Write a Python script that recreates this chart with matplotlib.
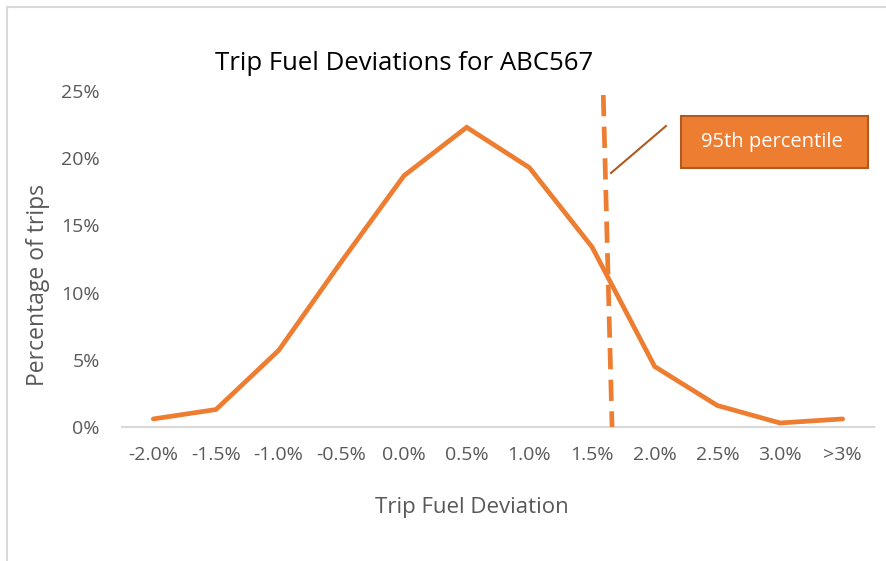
import matplotlib.pyplot as plt
from matplotlib.patches import Rectangle
from matplotlib.lines import Line2D

# ----- Data -----
categories = ["-2.0%", "-1.5%", "-1.0%", "-0.5%", "0.0%", "0.5%",
              "1.0%", "1.5%", "2.0%", "2.5%", "3.0%", ">3%"]
pct_trips = [0.6, 1.3, 5.7, 12.3, 18.7, 22.3, 19.3, 13.4, 4.5, 1.6, 0.3, 0.6]
y_ticks = [0, 5, 10, 15, 20, 25]
# 95th percentile marker (category position, % value) at top and bottom
p95_x = [7.18, 7.32]
p95_y = [24.7, 0.0]

ORANGE = "#ED7D31"
DARK_ORANGE = "#AE5A21"
GREY_TXT = "#595959"
GREY_LINE = "#D9D9D9"

plt.rcParams["font.family"] = ["Open Sans", "DejaVu Sans"]

W, H = 887, 561
fig = plt.figure(figsize=(W / 100, H / 100), dpi=100)
fig.patch.set_facecolor("white")

# chart-area border (light grey, runs off right/bottom)
fig.patches.append(Rectangle((7 / W, -0.05), 1.1, 1 - 7 / H + 0.05,
                             transform=fig.transFigure, fill=False,
                             edgecolor=GREY_LINE, lw=1.5))

ax = fig.add_axes([122 / W, 1 - 427 / H, 752 / W, 336 / H])
x = list(range(len(categories)))
ax.plot(x, pct_trips, color=ORANGE, lw=3.4, solid_joinstyle="miter",
        solid_capstyle="round", zorder=3)
ax.plot(p95_x, p95_y, color=ORANGE, lw=3.4, ls=(0, (4.5, 2.2)), zorder=4)

ax.set_xlim(-0.5, len(categories) - 0.5)
ax.set_ylim(0, 25)
ax.set_xticks(x)
ax.set_xticklabels(categories)
ax.set_yticks(y_ticks)
ax.set_yticklabels([f"{v}%" for v in y_ticks])
ax.tick_params(length=0, labelsize=14, colors=GREY_TXT)
ax.tick_params(axis="y", pad=16)
ax.tick_params(axis="x", pad=14)
for s in ("top", "right", "left"):
    ax.spines[s].set_visible(False)
ax.spines["bottom"].set_color(GREY_LINE)
ax.spines["bottom"].set_linewidth(1.5)

fig.text(472 / W, 1 - 507 / H, "Trip Fuel Deviation", fontsize=16,
         color=GREY_TXT, ha="center", va="center")
fig.text(38 / W, 1 - 285 / H, "Percentage of trips", fontsize=16.5,
         color=GREY_TXT, ha="center", va="center", rotation=90)

fig.text(404 / W, 1 - 63 / H, "Trip Fuel Deviations for ABC567",
         fontsize=18.5, color="black", ha="center", va="center")

# 95th percentile callout
ax.add_patch(Rectangle(((681 - 122) / 752, (427 - 168) / 336), 187 / 752, 52 / 336,
                       transform=ax.transAxes, facecolor=ORANGE,
                       edgecolor=DARK_ORANGE, lw=1.5, clip_on=False, zorder=5))
ax.text((772 - 122) / 752, (427 - 142) / 336, "95th percentile",
        transform=ax.transAxes, color="white", fontsize=14.5,
        ha="center", va="center", zorder=6)
ax.add_line(Line2D([(666 - 122) / 752, (611 - 122) / 752],
                   [(427 - 126) / 336, (427 - 173) / 336],
                   transform=ax.transAxes, color=DARK_ORANGE, lw=1.5,
                   clip_on=False, zorder=5))

fig.savefig("out.png", dpi=100, facecolor="white")
